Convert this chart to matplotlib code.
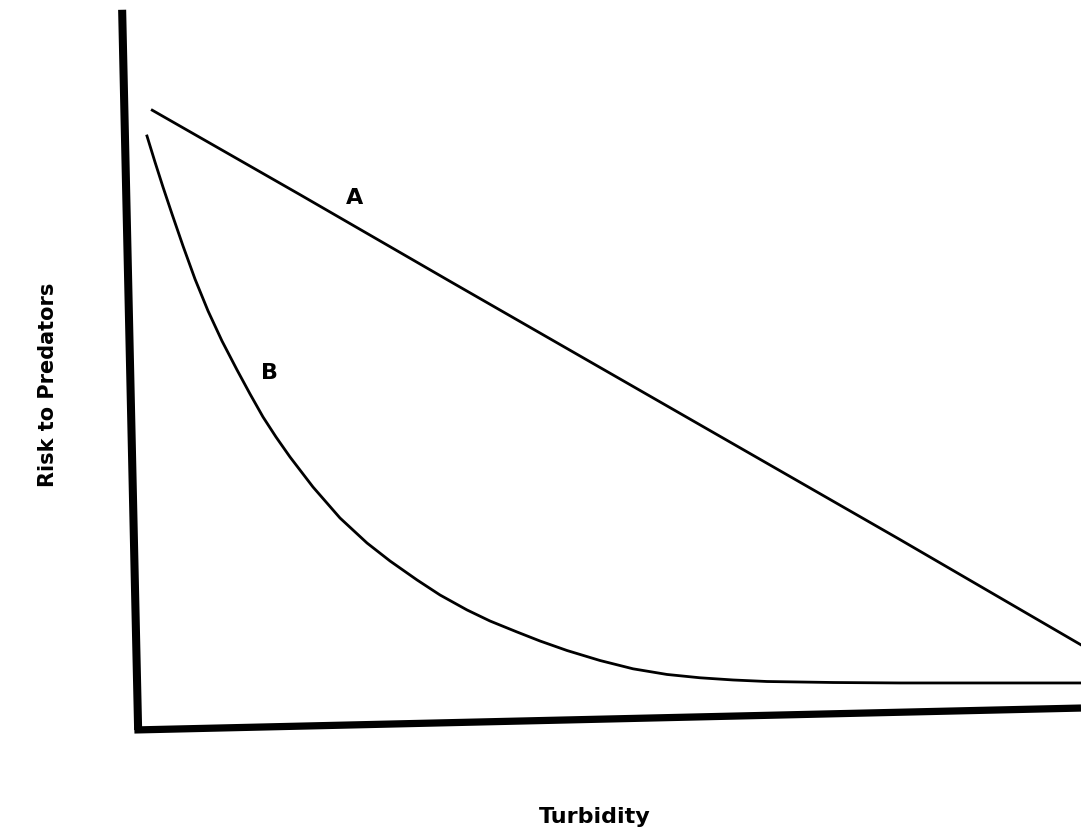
import matplotlib
matplotlib.use("Agg")
import matplotlib.pyplot as plt
import numpy as np

# curve A: roughly straight decline of risk with turbidity
turb_a = [1.3, 17.0, 32.9, 48.9, 80.8, 100.0]
risk_a = [93.2, 80.5, 67.5, 54.5, 28.6, 12.8]

# curve B: steep early drop, then levels off
turb_b = [0.74, 1.59, 2.44, 3.40, 4.57, 5.84, 7.23, 8.71, 10.31, 11.69,
          13.07, 14.45, 15.94, 18.38, 21.25, 24.12, 26.57, 29.44, 31.88,
          34.75, 37.19, 40.06, 42.51, 45.38, 48.88, 52.39, 56.00, 59.51,
          63.02, 66.63, 73.65, 80.77, 100.0]
risk_b = [89.32, 85.41, 81.65, 77.59, 72.78, 67.82, 63.01, 58.50, 54.14, 50.53,
          47.07, 44.06, 41.05, 36.54, 31.88, 28.12, 25.41, 22.56, 20.30,
          18.05, 16.39, 14.74, 13.38, 11.95, 10.45, 9.20, 8.35, 7.85,
          7.52, 7.29, 7.14, 7.07, 7.07]

labels = ["A", "B"]
label_pos = [(22.8, 80.0), (13.8, 53.7)]

# hand-drawn axes (slightly skewed in the scan)
yaxis_x = [-1.9, -0.2]
yaxis_y = [108.3, 0.0]
xaxis_x = [-0.6, 100.0]
xaxis_y = [0.0, 3.3]

fig = plt.figure(figsize=(10.81, 8.31), dpi=100)
ax = fig.add_axes([0, 0, 1, 1])
ax.set_xlim(-14.88, 100)
ax.set_ylim(-15.19, 109.77)
ax.axis("off")

ax.plot(yaxis_x, yaxis_y, color="black", lw=5.8, solid_capstyle="butt")
ax.plot(xaxis_x, xaxis_y, color="black", lw=5.2, solid_capstyle="butt")

ax.plot(turb_a, risk_a, color="black", lw=2.0)
ax.plot(turb_b, risk_b, color="black", lw=2.0, solid_joinstyle="round")

for lab, (x, y) in zip(labels, label_pos):
    ax.text(x, y, lab, fontsize=16, fontweight="bold", ha="center", va="center")

fig.text(48 / 1081, 1 - 385 / 831, "Risk to Predators", rotation=90,
         fontsize=15, fontweight="bold", ha="center", va="center")
fig.text(595 / 1081, 1 - 817 / 831, "Turbidity",
         fontsize=16, fontweight="bold", ha="center", va="center")

fig.savefig("out.png", dpi=100, facecolor="white")
